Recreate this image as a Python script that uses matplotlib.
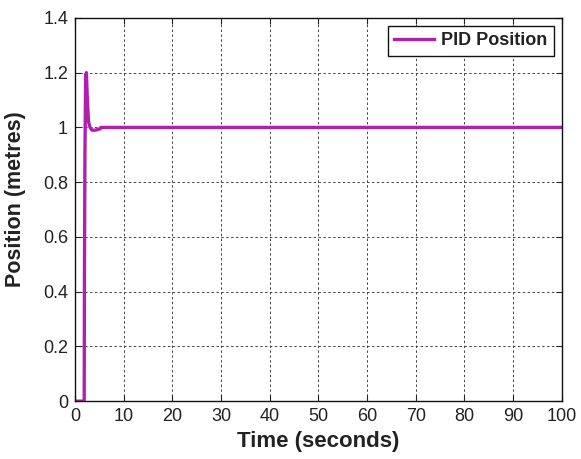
import matplotlib
matplotlib.use('Agg')
import matplotlib.pyplot as plt

# PID step response
time_s = [0, 1.9, 1.95, 2.05, 2.2, 2.35, 2.55, 2.8, 3.1, 3.5, 4.2, 5.2, 5.3, 100]
position_m = [0, 0, 0.45, 0.9, 1.19, 1.2, 1.1, 1.02, 1.0, 0.99, 0.99, 0.995, 1.0, 1.0]

x_ticks = list(range(0, 101, 10))
y_ticks = [0, 0.2, 0.4, 0.6, 0.8, 1, 1.2, 1.4]
y_tick_labels = ['0', '0.2', '0.4', '0.6', '0.8', '1', '1.2', '1.4']

plt.rcParams['font.family'] = ['Liberation Sans', 'DejaVu Sans']

fig = plt.figure(figsize=(5.81, 4.59), dpi=100)
ax = fig.add_axes([0.129, 0.126, 0.838, 0.835])

ax.plot(time_s, position_m, color='#b020b0', linewidth=2.4, label='PID Position')

ax.set_xlim(0, 100)
ax.set_ylim(0, 1.4)
ax.set_xticks(x_ticks)
ax.set_yticks(y_ticks)
ax.set_yticklabels(y_tick_labels)
ax.tick_params(direction='in', labelsize=13, length=4, top=True, right=True, colors='#222222')
ax.tick_params(axis='x', pad=5)
ax.tick_params(axis='y', pad=5)
ax.grid(True, color='#444444', linestyle=(0, (2.5, 2.5)), linewidth=0.7)

for sp in ax.spines.values():
    sp.set_color('#111111')
    sp.set_linewidth(1.0)

ax.set_xlabel('Time (seconds)', fontsize=16, fontweight='bold', color='#222222', labelpad=4)
ax.set_ylabel('Position (metres)', fontsize=15.5, fontweight='bold', color='#222222')
ax.yaxis.set_label_coords(-0.101, 0.527)

leg = ax.legend(loc='upper right', fontsize=13, handlelength=2.2, handletextpad=0.4,
                borderaxespad=0.45, borderpad=0.35, fancybox=False, framealpha=1)
leg.get_frame().set_edgecolor('#111111')
leg.get_frame().set_linewidth(1.0)
for t in leg.get_texts():
    t.set_fontweight('bold')
    t.set_color('#222222')

fig.savefig('out.png', dpi=100)
